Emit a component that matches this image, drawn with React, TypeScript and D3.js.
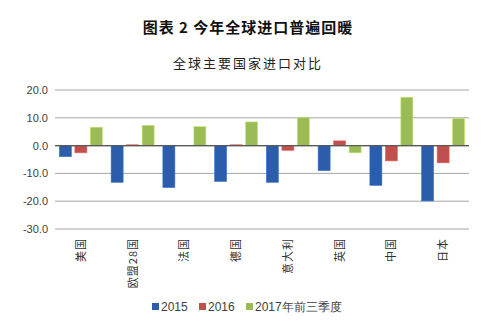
import React from "react";
import * as d3 from "d3";

const categories = ["美国", "欧盟28国", "法国", "德国", "意大利", "英国", "中国", "日本"];
const seriesNames = ["2015", "2016", "2017年前三季度"];
const values2015 = [-4.0, -13.2, -15.1, -12.9, -13.2, -9.0, -14.3, -19.9];
const values2016 = [-2.6, 0.3, 0.0, 0.3, -1.7, 1.7, -5.5, -6.2];
const values2017 = [6.6, 7.3, 6.8, 8.5, 10.1, -2.6, 17.4, 9.7];
const yTicks = [20, 10, 0, -10, -20, -30];
const colors = ["#2B5DAA", "#C0504D", "#9BBB59"];

const W = 488, H = 321;
const left = 55, right = 469, top = 90, bottom = 229;

export default function App() {
  const series = [values2015, values2016, values2017];
  const x = d3.scaleBand<string>().domain(categories).range([left, right]);
  const y = d3.scaleLinear().domain([-30, 20]).range([bottom, top]);
  const bw = 12;
  const offsets = [-15.5, 0, 15.5];
  const font = "'Liberation Sans', Arial, sans-serif";
  const cjk = "'Noto Sans CJK SC', sans-serif";
  return (
    <svg width={W} height={H} style={{ position: "absolute", left: 0, top: 0, background: "#fff" }}>
      <text x={248} y={33} textAnchor="middle" fontFamily={cjk} fontWeight="bold" fontSize={15} letterSpacing={1} fill="#111">图表 2 今年全球进口普遍回暖</text>
      <text x={248} y={68} textAnchor="middle" fontFamily={cjk} fontSize={13} letterSpacing={2} fill="#222">全球主要国家进口对比</text>
      {yTicks.map((t) => (
        <g key={t}>
          <line x1={left} x2={right} y1={y(t)} y2={y(t)} stroke={t === 0 ? "#7f7f7f" : "#a6a6a6"} strokeWidth={t === 0 ? 1.3 : 1} />
          <text x={48} y={y(t) + 4} textAnchor="end" fontFamily={font} fontSize={11} fill="#404040">{t.toFixed(1)}</text>
        </g>
      ))}
      {series.map((vals, si) =>
        vals.map((v, i) => {
          const cx = x(categories[i])! + x.bandwidth() / 2 + offsets[si];
          const y0 = y(0), y1 = y(v);
          return (
            <rect key={si + "-" + i} x={cx - bw / 2} y={Math.min(y0, y1)} width={bw} height={Math.abs(y1 - y0)}
              fill={colors[si]} stroke={d3.color(colors[si])!.brighter(0.6).toString()} strokeWidth={0.6} />
          );
        })
      )}
      <line x1={left} x2={right} y1={y(0)} y2={y(0)} stroke="#595959" strokeWidth={1.2} />
      {categories.map((c) => {
        const cx = x(c)! + x.bandwidth() / 2;
        return (
          <text key={c} transform={`translate(${cx + 4},238) rotate(-90)`} textAnchor="end" fontFamily={cjk} fontSize={11} letterSpacing={1} fill="#333">{c}</text>
        );
      })}
      {seriesNames.map((s, i) => {
        const xs = [152, 199, 246][i];
        return (
          <g key={s}>
            <rect x={xs} y={303} width={7} height={7} fill={colors[i]} />
            <text x={xs + 9} y={311} fontFamily={font} fontSize={12} fill="#404040">{s}</text>
          </g>
        );
      })}
    </svg>
  );
}
